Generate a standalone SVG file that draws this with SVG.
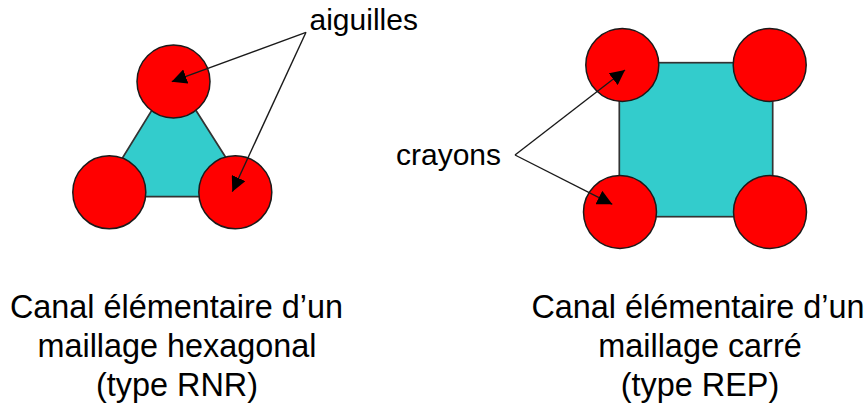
<svg xmlns="http://www.w3.org/2000/svg" width="867" height="408" viewBox="0 0 867 408">
<style>
.c{fill:#ff0000;stroke:#1a1a1a;stroke-width:1.5}
.m{fill:#33cccc;stroke:#333333;stroke-width:1.7}
.a{fill:none;stroke:#1a1a1a;stroke-width:1.4;marker-end:url(#ah)}
text{font-family:"Liberation Sans",Arial,sans-serif;font-size:30px;fill:#000}
.t{text-anchor:middle;font-size:32.4px}
</style>
<defs><marker id="ah" viewBox="0 0 10 10" refX="10" refY="5" markerWidth="15" markerHeight="15" markerUnits="userSpaceOnUse" orient="auto" preserveAspectRatio="none"><path d="M0 0L10 5L0 10Z" fill="#000"/></marker></defs>
<rect width="867" height="408" fill="#fff"/>
<g id="canal-hex"><polygon class="m" points="173.5,75 250.7,196.7 98.6,196.7"/></g>
<g id="canal-car"><rect class="m" x="619.3" y="62.7" width="153.4" height="154"/></g>
<g id="aiguille-1"><circle class="c" cx="173.5" cy="81.5" r="36.5"/></g>
<g id="crayon-h1"><circle class="c" cx="109.3" cy="192.3" r="36.5"/></g>
<g id="aiguille-2"><circle class="c" cx="235.3" cy="192.3" r="36.5"/></g>
<g id="crayon-1"><circle class="c" cx="622.3" cy="65" r="36.5"/></g>
<g id="crayon-2"><circle class="c" cx="769.7" cy="65" r="36.5"/></g>
<g id="crayon-3"><circle class="c" cx="620" cy="212" r="36.5"/></g>
<g id="crayon-4"><circle class="c" cx="770" cy="212" r="36.5"/></g>
<g id="connectors">
<line class="a" x1="306" y1="32.3" x2="171.7" y2="81.7"/>
<line class="a" x1="306" y1="32.3" x2="232.3" y2="191.7"/>
<line class="a" x1="515" y1="155" x2="625" y2="70"/>
<line class="a" x1="515" y1="155" x2="612.3" y2="204.3"/>
</g>
<g id="labels">
<text x="309.5" y="30">aiguilles</text>
<text x="396" y="165">crayons</text>
<text class="t" x="176.5" y="318">Canal élémentaire d’un</text>
<text class="t" x="177" y="357">maillage hexagonal</text>
<text class="t" x="177" y="396">(type RNR)</text>
<text class="t" x="698" y="318">Canal élémentaire d’un</text>
<text class="t" x="700" y="357">maillage carré</text>
<text class="t" x="700" y="396">(type REP)</text>
</g>
</svg>
